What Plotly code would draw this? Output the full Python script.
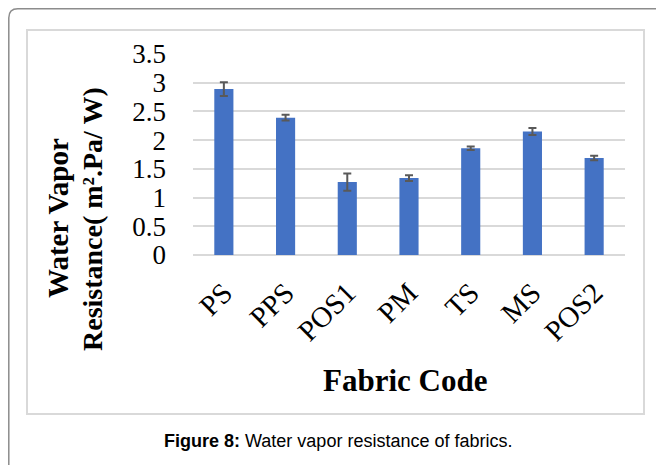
import plotly.graph_objects as go

categories = ["PS", "PPS", "POS1", "PM", "TS", "MS", "POS2"]
resistance = [2.89, 2.39, 1.27, 1.34, 1.86, 2.15, 1.69]
errors = [0.12, 0.05, 0.15, 0.05, 0.03, 0.06, 0.04]
y_ticks = [0, 0.5, 1, 1.5, 2, 2.5, 3, 3.5]
y_tick_labels = ["0", "0.5", "1", "1.5", "2", "2.5", "3", "3.5"]

# the page body has an 8px margin; figure coordinates are page coordinates - 8
OFF = 8
W, H = 664 - OFF, 465 - OFF
ML, MT = 193 - OFF, 54 - OFF
PW, PH = 432, 201
MR = W - ML - PW
MB = H - MT - PH


def px(x):
    """page pixel x -> paper"""
    return (x - OFF - ML) / PW


def py(y):
    """page pixel y -> paper"""
    return (MT + PH - (y - OFF)) / PH


serif = "Liberation Serif, Times New Roman, serif"

fig = go.Figure()
fig.add_trace(go.Bar(
    x=categories,
    y=resistance,
    width=0.31,
    marker=dict(color="#4472C4", line=dict(width=0)),
    error_y=dict(type="data", array=errors, visible=True,
                 color="#595959", thickness=2, width=4),
))

# outer rounded border
r = 9
x0, y0, x1, y1 = OFF + 0.8, OFF + 0.8, 700, 500
path = (f"M {px(x0)},{py(y1)} L {px(x0)},{py(y0 + r)} "
        f"Q {px(x0)},{py(y0)} {px(x0 + r)},{py(y0)} L {px(x1)},{py(y0)}")
shapes = [
    dict(type="path", xref="paper", yref="paper", path=path,
         line=dict(color="#8c8c8c", width=1.5), layer="below"),
    dict(type="rect", xref="paper", yref="paper",
         x0=px(27), x1=px(644), y0=py(414), y1=py(30),
         line=dict(color="#d9d9d9", width=2), layer="below"),
]

annotations = [
    dict(text="<b>Water Vapor</b>", xref="paper", yref="paper",
         x=px(58), y=py(218), textangle=-90, showarrow=False,
         font=dict(family=serif, size=29, color="black"),
         xanchor="center", yanchor="middle"),
    dict(text="<b>Resistance( m².Pa/ W)</b>", xref="paper", yref="paper",
         x=px(92), y=py(219), textangle=-90, showarrow=False,
         font=dict(family=serif, size=28, color="black"),
         xanchor="center", yanchor="middle"),
    dict(text="<b>Fabric Code</b>", xref="paper", yref="paper",
         x=px(405), y=py(380), showarrow=False,
         font=dict(family=serif, size=31, color="black"),
         xanchor="center", yanchor="middle"),
    dict(text="<b>Figure 8:</b> Water vapor resistance of fabrics.", xref="paper", yref="paper",
         x=px(338), y=py(441), showarrow=False,
         font=dict(family="Liberation Sans, Arial, sans-serif", size=18, color="black"),
         xanchor="center", yanchor="middle"),
]

fig.update_layout(
    width=W, height=H,
    margin=dict(l=ML, r=MR, t=MT, b=MB),
    paper_bgcolor="white", plot_bgcolor="white",
    showlegend=False,
    shapes=shapes,
    annotations=annotations,
)
fig.update_xaxes(
    tickangle=-45, showgrid=False, showline=False, zeroline=False,
    tickfont=dict(family=serif, size=29, color="black"), ticks="",
    ticklabelstandoff=14,
)
fig.update_yaxes(
    range=[0, 3.5], tickvals=y_ticks, ticktext=y_tick_labels,
    showgrid=True, gridcolor="#d9d9d9", gridwidth=1.5,
    zeroline=True, zerolinecolor="#d9d9d9", zerolinewidth=1.5,
    showline=False, ticks="", ticklabelstandoff=26,
    tickfont=dict(family=serif, size=27, color="black"),
)

fig.write_html("out.html")
